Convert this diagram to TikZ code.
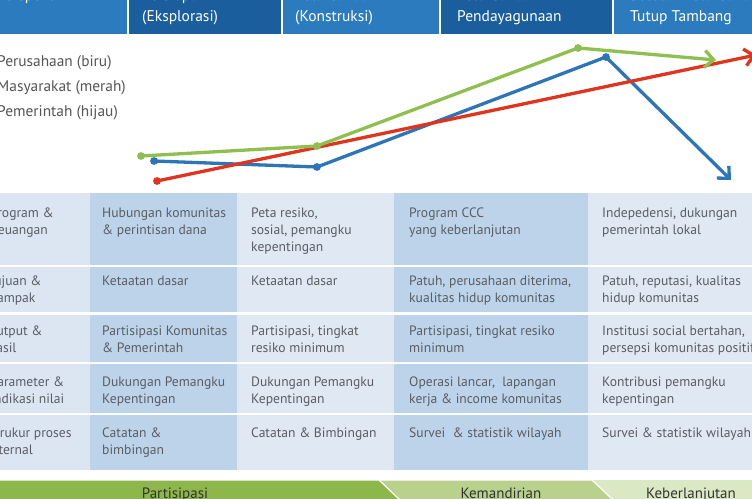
\documentclass[tikz,border=0pt]{standalone}
\usepackage{fontspec}
\setmainfont{PT Sans}
\usetikzlibrary{arrows.meta}
\definecolor{hdA}{HTML}{2C7BBF}
\definecolor{hdB}{HTML}{1B5E9E}
\definecolor{cLight}{HTML}{DCE6F2}
\definecolor{cLightB}{HTML}{DFE8F3}
\definecolor{cDark}{HTML}{BDD3EA}
\definecolor{txtgray}{HTML}{5A5E64}
\definecolor{leggray}{HTML}{555555}
\definecolor{lblue}{HTML}{2E75B5}
\definecolor{lred}{HTML}{E1341E}
\definecolor{lgreen}{HTML}{8FBF4F}
\definecolor{gdark}{HTML}{8DB64B}
\definecolor{gmed}{HTML}{B9D18D}
\definecolor{glight}{HTML}{DAE8C4}
\definecolor{bartxt}{HTML}{333333}
\begin{document}
\begin{tikzpicture}[x=1pt,y=-1pt,
  hdtext/.style={anchor=north west, inner sep=0pt, align=left, text=white,
    font=\fontsize{15.5}{21}\selectfont},
  legtext/.style={anchor=north west, inner sep=0pt, align=left, text=leggray,
    font=\fontsize{15.4}{25}\selectfont},
  tcell/.style={anchor=north west, inner sep=0pt, align=left, text=txtgray,
    font=\fontsize{13.6}{17}\selectfont},
  bartext/.style={anchor=base, inner sep=0pt, text=bartxt,
    font=\fontsize{15}{18}\selectfont},
  cline/.style={line width=3.3pt, line join=round,
    -{Straight Barb[length=9pt,width=17pt]}},
]
\useasboundingbox (0,0) rectangle (752,498);
\clip (0,0) rectangle (752,498);
\fill[white] (0,0) rectangle (752,498);

% header band
\fill[hdA] (-5,-5) rectangle (127,33.5);
\fill[hdB] (129,-5) rectangle (280.5,33.5);
\fill[hdA] (282.5,-5) rectangle (439,33.5);
\fill[hdB] (441,-5) rectangle (611.5,33.5);
\fill[hdA] (613.5,-5) rectangle (760,33.5);

\node[hdtext] (h1) at (-3,-14.2) {\strut Perspektif};
\node[hdtext] (h2) at (142,-14.2) {\strut Persiapan\\(Eksplorasi)};
\node[hdtext] (h3) at (295,-14.2) {\strut Pelaksanaan\\(Konstruksi)};
\node[hdtext] (h4) at (457,-14.2) {\strut Pelaksanaan\\Pendayagunaan};
\node[hdtext] (h5) at (630,-14.2) {\strut Setelah Pelaksanaan\\Tutup Tambang};

% legend
\node[legtext] (leg) at (-3,49) {\strut Perusahaan (biru)\\Masyarakat (merah)\\Pemerintah (hijau)};

% table background
\fill[cLight] (0,192.5) rectangle (90,470);
\fill[cDark] (90,192.5) rectangle (237,470);
\fill[cLightB] (237,192.5) rectangle (394,470);
\fill[cDark] (394,192.5) rectangle (588,470);
\fill[cLightB] (588,192.5) rectangle (760,470);
\foreach \yy in {266,313.5,363,414}{
  \draw[white, line width=2.5pt] (-5,\yy) -- (760,\yy);
}

% row 1
\node[tcell] (r1c1) at (-10,205.1) {\strut Program \&\\Keuangan};
\node[tcell] (r1c2) at (102,205.1) {\strut Hubungan komunitas\\\& perintisan dana};
\node[tcell] (r1c3) at (251,205.1) {\strut Peta resiko,\\sosial, pemangku\\kepentingan};
\node[tcell] (r1c4) at (409,205.1) {\strut Program CCC\\yang keberlanjutan};
\node[tcell] (r1c5) at (602,205.1) {\strut Indepedensi, dukungan\\pemerintah lokal};
% row 2
\node[tcell] (r2c1) at (-12,273.1) {\strut Tujuan \&\\Dampak};
\node[tcell] (r2c2) at (102,273.1) {\strut Ketaatan dasar};
\node[tcell] (r2c3) at (251,273.1) {\strut Ketaatan dasar};
\node[tcell] (r2c4) at (409,273.1) {\strut Patuh, perusahaan diterima,\\kualitas hidup komunitas};
\node[tcell] (r2c5) at (602,273.1) {\strut Patuh, reputasi, kualitas\\hidup komunitas};
% row 3
\node[tcell] (r3c1) at (-13,323.1) {\strut Output \&\\Hasil};
\node[tcell] (r3c2) at (102,323.1) {\strut Partisipasi Komunitas\\\& Pemerintah};
\node[tcell] (r3c3) at (251,323.1) {\strut Partisipasi, tingkat\\resiko minimum};
\node[tcell] (r3c4) at (409,323.1) {\strut Partisipasi, tingkat resiko\\minimum};
\node[tcell] (r3c5) at (602,323.1) {\strut Institusi social bertahan,\\persepsi komunitas positif};
% row 4
\node[tcell] (r4c1) at (-10,374.1) {\strut Parameter \&\\Indikasi nilai};
\node[tcell] (r4c2) at (102,374.1) {\strut Dukungan Pemangku\\Kepentingan};
\node[tcell] (r4c3) at (251,374.1) {\strut Dukungan Pemangku\\Kepentingan};
\node[tcell] (r4c4) at (409,374.1) {\strut Operasi lancar,\ \ lapangan\\kerja \& income komunitas};
\node[tcell] (r4c5) at (602,374.1) {\strut Kontribusi pemangku\\kepentingan};
% row 5
\node[tcell] (r5c1) at (-13,425.1) {\strut Terukur proses\\Internal};
\node[tcell] (r5c2) at (102,425.1) {\strut Catatan \&\\bimbingan};
\node[tcell] (r5c3) at (251,425.1) {\strut Catatan \& Bimbingan};
\node[tcell] (r5c4) at (409,425.1) {\strut Survei\ \ \& statistik wilayah};
\node[tcell] (r5c5) at (602,425.1) {\strut Survei \& statistik wilayah};

% bottom chevron bar
\fill[glight] (590,480) rectangle (760,520);
\filldraw[fill=gmed, draw=white, line width=1.2pt] (370,480) -- (592,480) -- (613,500) -- (592,520) -- (370,520) -- cycle;
\filldraw[fill=gdark, draw=white, line width=1.2pt] (-5,480) -- (379,480) -- (400,500) -- (379,520) -- (-5,520) -- cycle;
\node[bartext] (p1) at (175,498.5) {Partisipasi};
\node[bartext] (p2) at (501,498.5) {Kemandirian};
\node[bartext] (p3) at (691,498.5) {Keberlanjutan};

% chart
\coordinate (b1) at (154,161);
\coordinate (b2) at (317,167);
\coordinate (b3) at (606,57);
\coordinate (b4) at (731,180);
\coordinate (r1) at (157,181);
\coordinate (r2) at (756,55);
\coordinate (g1) at (141,156);
\coordinate (g2) at (317,146);
\coordinate (g3) at (578,48);
\coordinate (g4) at (716,60);

\draw[cline, lblue] (b1) -- (b2) -- (b3) -- (b4);
\foreach \p in {b1,b2,b3}{\fill[lblue] (\p) circle (3.9pt);}
\draw[cline, lred] (r1) -- (r2);
\fill[lred] (r1) circle (3.9pt);
\draw[cline, lgreen] (g1) -- (g2) -- (g3) -- (g4);
\foreach \p in {g1,g2,g3}{\fill[lgreen] (\p) circle (3.9pt);}
\end{tikzpicture}
\end{document}
